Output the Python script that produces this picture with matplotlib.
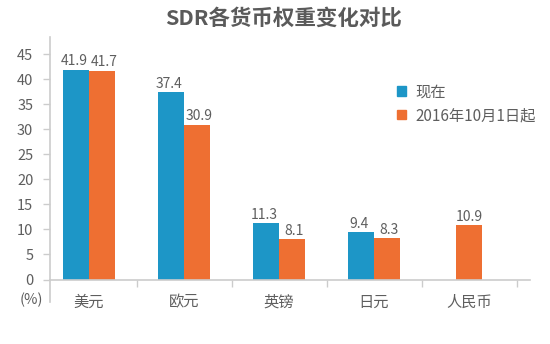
import matplotlib
matplotlib.use("Agg")
import matplotlib.pyplot as plt
from matplotlib.patches import Patch

plt.rcParams['font.family'] = ['Noto Sans CJK SC', 'DejaVu Sans']

title = "SDR各货币权重变化对比"
categories = ["美元", "欧元", "英镑", "日元", "人民币"]
series_names = ["现在", "2016年10月1日起"]
current = [41.9, 37.4, 11.3, 9.4, None]
from_2016 = [41.7, 30.9, 8.1, 8.3, 10.9]
yticks = [0, 5, 10, 15, 20, 25, 30, 35, 40, 45]

BLUE = "#1D96C7"
ORANGE = "#EE6F32"
TEXT = "#5E5E5E"
AXIS = "#CCCCCC"

W, H = 550, 344
fig = plt.figure(figsize=(W / 100, H / 100), dpi=100)
ax_left, ax_right, ax_bottom, ax_top = 50, 530, 279.5, 37
ax = fig.add_axes([ax_left / W, 1 - ax_bottom / H, (ax_right - ax_left) / W, (ax_bottom - ax_top) / H])

px_per_unit = 95
xmin = (ax_left - 89) / px_per_unit
xmax = (ax_right - 89) / px_per_unit
ymax = (ax_bottom - ax_top) / 5.005
ax.set_xlim(xmin, xmax)
ax.set_ylim(0, ymax)

bw = 26 / px_per_unit
lab_kw = dict(textcoords="offset points", ha="center", va="bottom", fontsize=10, color=TEXT)
for i, (a, b) in enumerate(zip(current, from_2016)):
    if a is None:
        ax.bar(i, b, width=bw, color=ORANGE)
        ax.annotate(f"{b}", (i, b), xytext=(0, 1), **lab_kw)
    else:
        ax.bar(i - bw / 2, a, width=bw, color=BLUE)
        ax.bar(i + bw / 2, b, width=bw, color=ORANGE)
        ax.annotate(f"{a}", (i - bw / 2, a), xytext=(-1.5, 1), **lab_kw)
        ax.annotate(f"{b}", (i + bw / 2, b), xytext=(1.5, 1), **lab_kw)

for s in ["top", "right"]:
    ax.spines[s].set_visible(False)
for s in ["left", "bottom"]:
    ax.spines[s].set_color(AXIS)
    ax.spines[s].set_linewidth(1.2)

ax.set_yticks(yticks)
ax.tick_params(axis="y", length=5, width=1, color=AXIS, pad=7, labelsize=10.5, labelcolor=TEXT)
ax.set_xticks(range(len(categories)))
ax.set_xticklabels(categories)
ax.tick_params(axis="x", which="major", length=0, pad=10, labelsize=11, labelcolor=TEXT)
ax.set_xticks([i + 0.5 for i in range(len(categories))], minor=True)
ax.tick_params(axis="x", which="minor", length=5, width=1, color=AXIS)

# extension of y-axis below zero
ext = (302 - ax_bottom) / (ax_bottom - ax_top)
ax.plot([0, 0], [0, -ext], transform=ax.transAxes, color=AXIS, lw=1.2, clip_on=False)

fig.text(31 / W, 1 - 300 / H, "(%)", ha="center", va="center", fontsize=10.5, color=TEXT)

fig.text(284 / W, 1 - 18 / H, title, ha="center", va="center", fontsize=15.5,
         fontweight="bold", color="#5A5A5A")

handles = [Patch(color=BLUE), Patch(color=ORANGE)]
leg = ax.legend(handles, series_names, loc="upper left",
                bbox_to_anchor=(391 / W, 1 - 77 / H), bbox_transform=fig.transFigure,
                frameon=False, fontsize=11, handlelength=0.6, handleheight=0.6,
                handletextpad=0.6, labelspacing=0.45, borderaxespad=0)
for t in leg.get_texts():
    t.set_color(TEXT)

fig.savefig("out.png", dpi=100)
